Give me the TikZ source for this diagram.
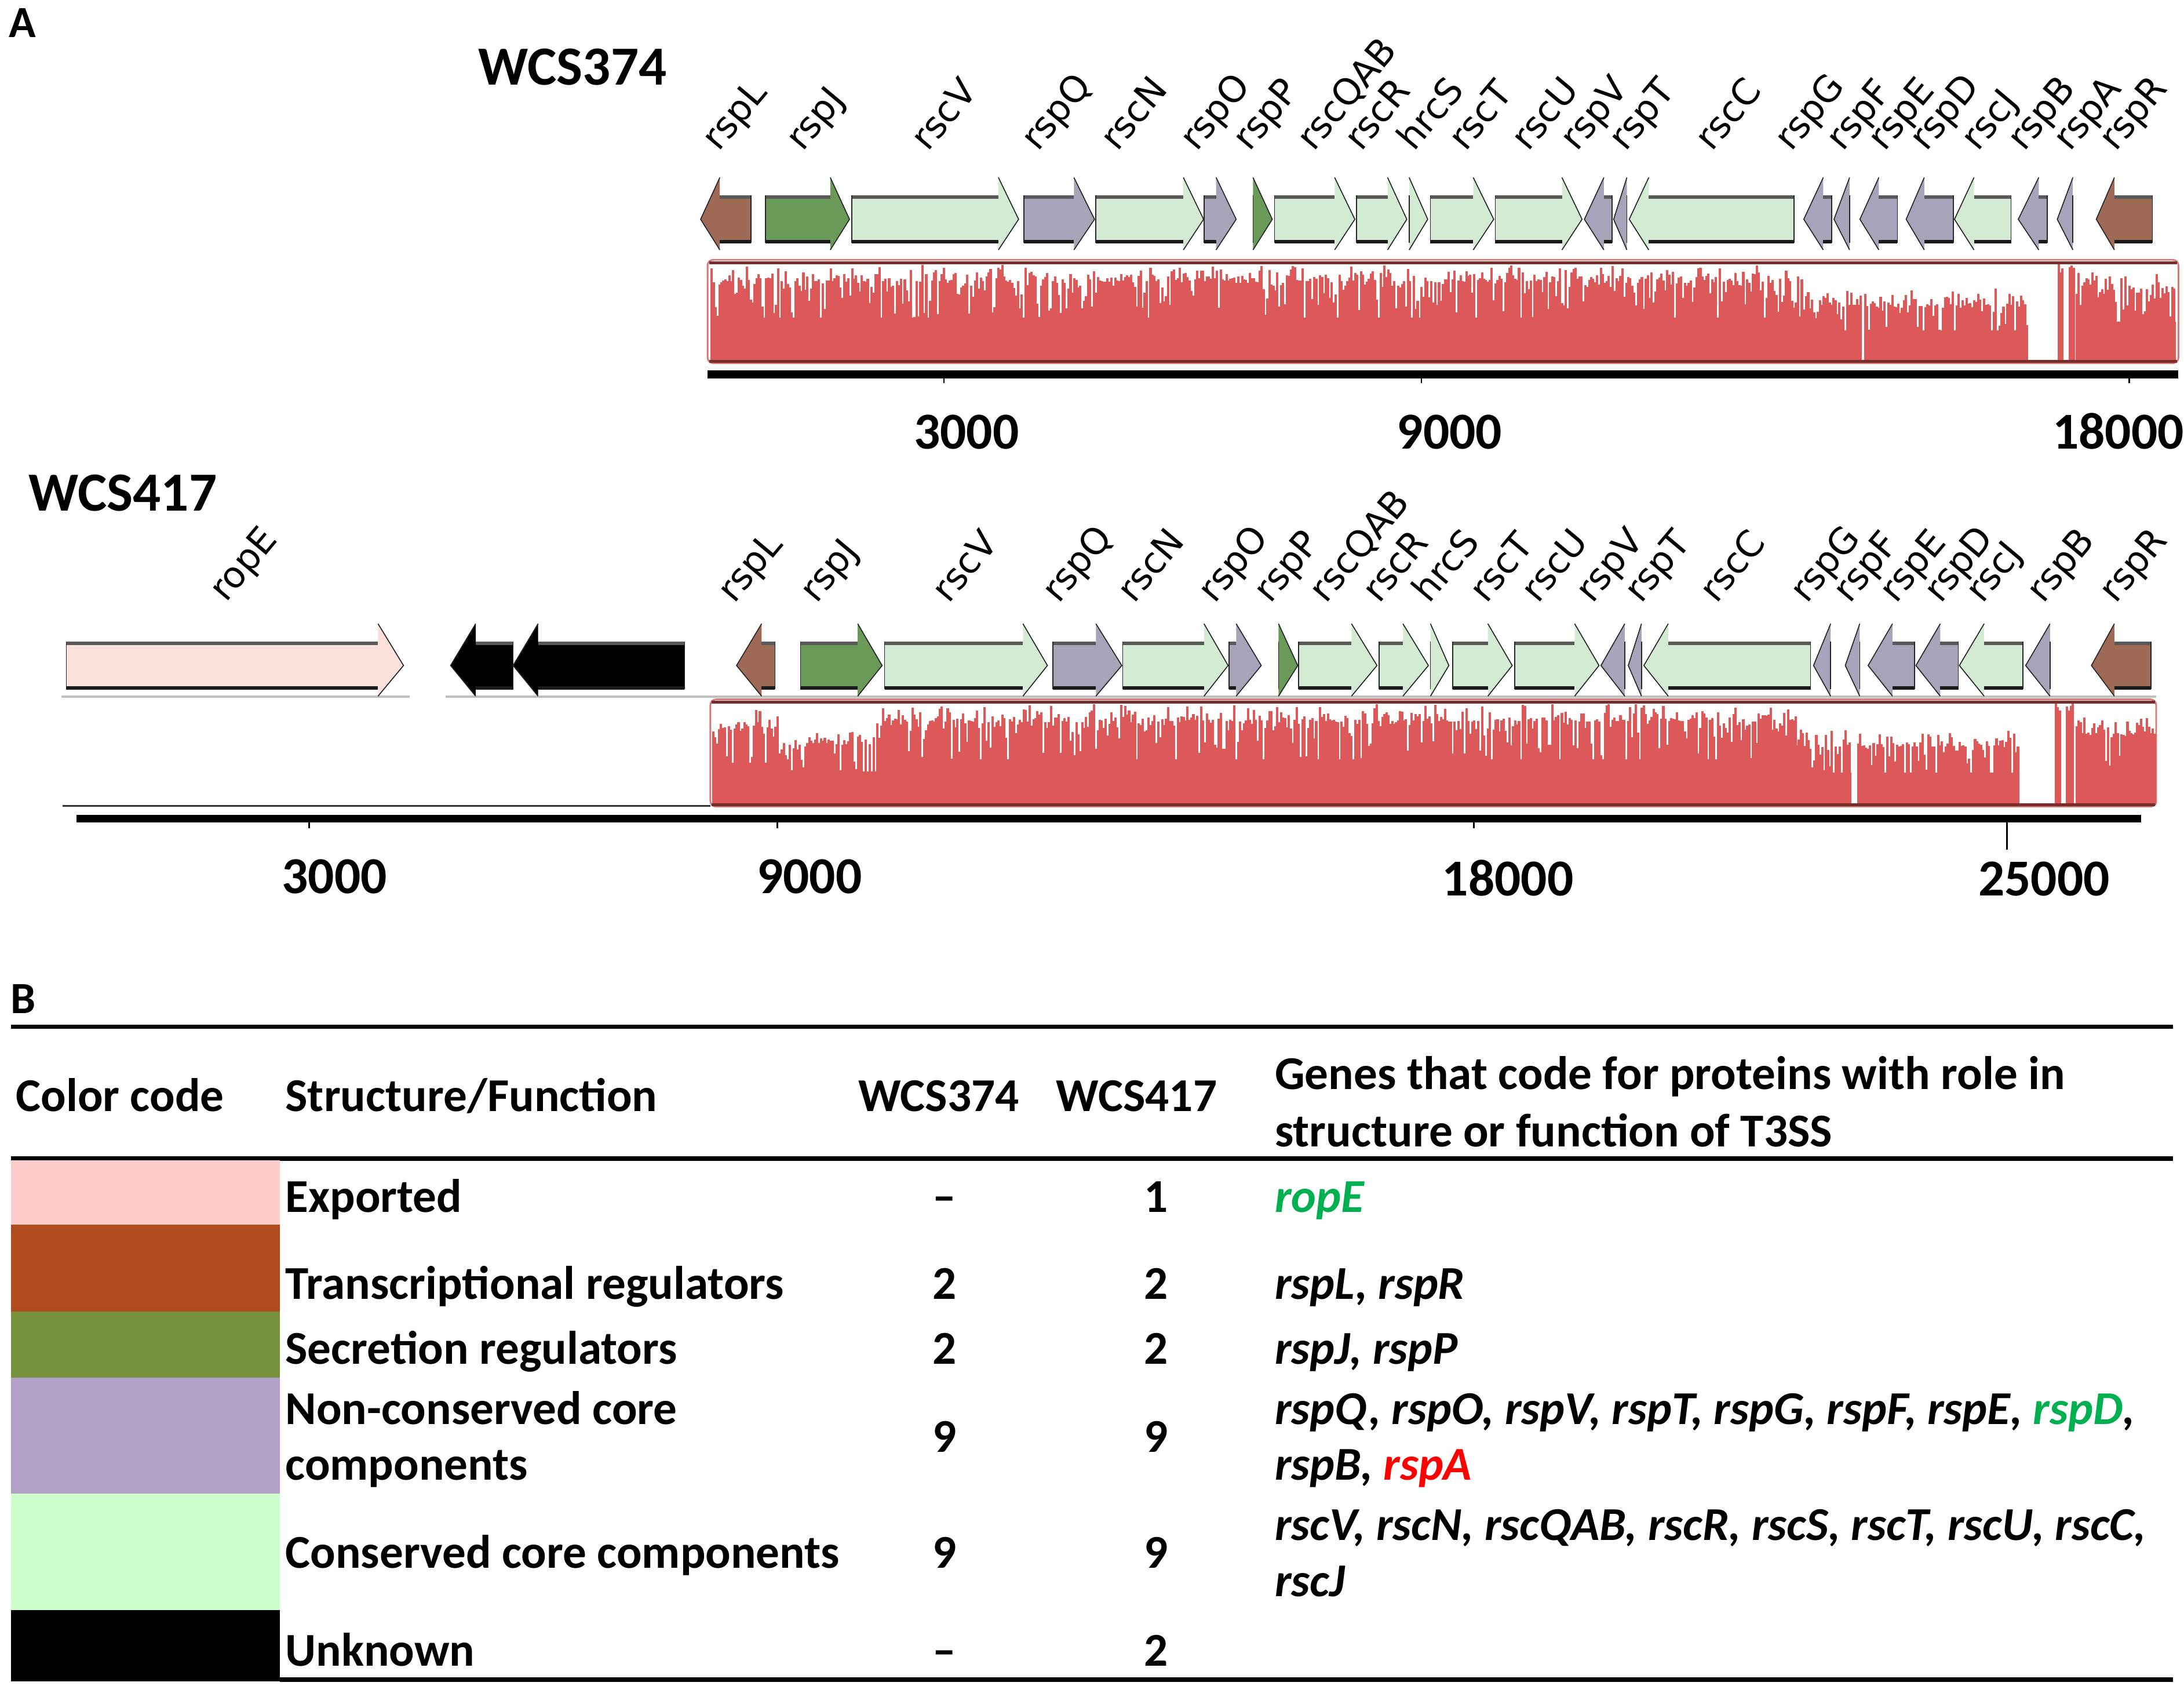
\documentclass[tikz,border=0pt]{standalone}
\usepackage{fontspec}
\setmainfont{Carlito}
\newfontfamily\genefont{DejaVu Sans}
\usepackage{tikz}
\usetikzlibrary{positioning}

\definecolor{expc}{HTML}{FFCCCC}
\definecolor{trcc}{HTML}{B04C1E}
\definecolor{secc}{HTML}{77923C}
\definecolor{nccc}{HTML}{B2A1C7}
\definecolor{conc}{HTML}{CCFFCC}
\definecolor{expg}{HTML}{FCE0DC}
\definecolor{trcg}{HTML}{9E6A55}
\definecolor{secg}{HTML}{6A9A58}
\definecolor{nccg}{HTML}{A7A3B9}
\definecolor{cong}{HTML}{D3EBD3}
\definecolor{histred}{RGB}{221,88,88}
\definecolor{histdark}{RGB}{120,45,45}
\definecolor{okgreen}{HTML}{00B050}

\newcommand{\tabfont}{\fontsize{16.9}{19}\selectfont\bfseries}
\newcommand{\rowy}{157.4}

% gene arrow: body end, head base, tip, colour
\newcommand{\gene}[4]{%
  \fill[#4] (#1,\rowy-17) -- (#2,\rowy-17) -- (#2,\rowy-30) -- (#3,\rowy)
    -- (#2,\rowy+22) -- (#2,\rowy+17) -- (#1,\rowy+17) -- cycle;
  \draw[bandtop] (#1,\rowy-16) -- (#2,\rowy-16);
  \draw[bandbot] (#1,\rowy+16) -- (#2,\rowy+16);
  \draw[geneline] (#1,\rowy-17) -- (#1,\rowy+17);
  \draw[geneline] (#2,\rowy-30) -- (#3,\rowy) -- (#2,\rowy+22);
}

% identity histogram: x0, x1, bottom, height, level, spread
\newcommand{\histo}[6]{%
  \pgfmathtruncatemacro{\hn}{(#2-#1)/1.4}%
  \fill[histred] (#1,#3) rectangle (#2,{#3-#4*#5*0.55});
  \foreach \i in {0,...,\hn}{%
    \pgfmathsetmacro{\hh}{min(0.97,#5+0.17*rnd^2-#6*rnd^5)}%
    \draw[histbar] ({#1+1.4*\i},#3) -- ++(0,{-#4*\hh});
  }%
}

\begin{document}
\begin{tikzpicture}[x=0.5pt,y=-0.5pt,
    glabel/.style={font=\genefont\fontsize{13}{15}\selectfont,rotate=50,anchor=base west,inner sep=0pt},
    bandtop/.style={line width=1.2pt,black!65},
    bandbot/.style={line width=1.2pt,black!90},
    geneline/.style={line width=0.35pt,black!85},
    histbar/.style={line width=0.85pt,histred},
    histbox/.style={draw={rgb,255:red,215;green,120;blue,120},fill=white,line width=0.6pt,rounded corners=2pt},
    ruler/.style={fill=black},
    tick/.style={line width=0.6pt},
    scalenum/.style={font=\fontsize{18.6}{20}\selectfont\bfseries,anchor=base west,inner sep=0pt},
    title/.style={font=\fontsize{19.8}{22}\selectfont\bfseries,anchor=base west,inner sep=0pt},
    panel/.style={font=\fontsize{16}{18}\selectfont\bfseries,anchor=base west,inner sep=0pt},
    tabtext/.style={font=\tabfont,anchor=base west,inner sep=0pt},
    tabnum/.style={font=\tabfont,anchor=base,inner sep=0pt},
    genetext/.style={font=\tabfont\itshape,anchor=base west,inner sep=0pt},
    rule/.style={line width=1.5pt}]
\useasboundingbox (0,0) rectangle (1568,1210);
\fill[white] (0,0) rectangle (1568,1210);
\pgfmathsetseed{7}

%% panel A
\node[panel] (pA) at (6,27) {A};
\node[title] (t374) at (343,61) {WCS374};
\node[title] (t417) at (20,366.8) {WCS417};

% WCS374 genes
\renewcommand{\rowy}{157.4}
\foreach \a/\b/\c/\col in {539.2/516.8/503.0/trcg, 549.5/596.1/609.9/secg,
    611.6/716.8/731.3/cong, 735.1/771.0/785.8/nccg, 786.8/849.6/864.1/cong,
    864.4/873.1/887.5/nccg, 899.6/899.6/913.4/secg, 915.1/958.2/972.7/cong,
    973.8/996.2/1010.0/cong, 1011.7/1011.7/1025.0/cong, 1026.9/1057.7/1072.4/cong,
    1073.5/1121.4/1135.8/cong, 1157.5/1151.5/1137.5/nccg, 1168/1168/1158.5/nccg,
    1288.0/1183.7/1169.7/cong, 1315.0/1309.0/1295.0/nccg, 1327.9/1327.9/1316.7/nccg,
    1362.2/1348.9/1335.3/nccg, 1402.5/1381.5/1368.5/nccg, 1443.8/1417.2/1403.2/cong,
    1469.7/1463.7/1449.0/nccg, 1488.2/1488.2/1477.0/nccg, 1545.3/1518.0/1505.0/trcg}
  {\gene{\a}{\b}{\c}{\col}}
\foreach \x/\name in {516/rspL, 576/rspJ, 666/rscV, 745/rspQ, 802/rscN,
    859/rspO, 897/rspP, 943/rscQAB, 977/rscR, 1015/hrcS, 1052/rscT,
    1097/rscU, 1132/rspV, 1167/rspT, 1229/rscC, 1286/rspG, 1323/rspF,
    1353/rspE, 1383/rspD, 1420/rscJ, 1453/rspB, 1486/rspA, 1519/rspR}
  \node[glabel] (a-\name) at (\x,109.6) {\name};

% WCS374 identity plot and scale
\draw[histbox] (508,186.5) rectangle (1564,260.7);
\histo{511}{1294}{259.5}{72}{0.8}{0.5}
\histo{1294}{1336}{259.5}{72}{0.56}{0.4}
\histo{1339}{1456}{259.5}{72}{0.56}{0.4}
\histo{1478}{1481}{259.5}{72}{0.9}{0.1}
\histo{1486}{1489}{259.5}{72}{0.9}{0.1}
\histo{1491}{1562}{259.5}{72}{0.72}{0.4}
\draw[histdark,line width=1pt] (509,188.5) -- (1563,188.5);
\draw[histdark,line width=1pt] (509,259.5) -- (1563,259.5);
\fill[ruler] (508,266) rectangle (1564,271.5);
\foreach \x in {677.7,1020.5,1528.8} \draw[tick] (\x,271.5) -- (\x,275);
\node[scalenum] (a3000) at (655.8,322.4) {3000};
\node[scalenum] (a9000) at (1002.6,322.4) {9000};
\node[scalenum] (a18000) at (1473.2,322.4) {18000};

% WCS417 genes
\draw[black!25,line width=0.8pt] (44,500) -- (294,500);
\draw[black!25,line width=0.8pt] (320,500) -- (1548,500);
\renewcommand{\rowy}{477.7}
\foreach \a/\b/\c/\col in {47.6/271.4/289.7/expg, 368.4/341.5/323.5/black,
    491.5/386.3/368.4/black, 556.4/546.8/528.8/trcg, 574.7/615.8/633.3/secg,
    635.1/734.4/752.0/cong, 755.8/786.8/805.4/nccg, 806.1/864.4/881.7/cong,
    882.4/887.5/905.5/nccg, 917.9/917.9/931.7/secg, 932.4/970.3/988.6/cong,
    990.0/1007.2/1025.5/cong, 1027/1027/1040.2/cong, 1043/1068.2/1085.7/cong,
    1087.5/1130.5/1148.0/cong, 1166.5/1166.5/1149.4/nccg, 1178.5/1178.5/1169/nccg,
    1299.9/1197.7/1180.2/cong, 1314.3/1314.3/1302/nccg, 1335.2/1335.2/1324.8/nccg,
    1374.5/1358.7/1341.2/nccg, 1406/1393/1375.5/nccg, 1452.2/1424.5/1406.7/cong,
    1471.8/1471.8/1454.3/nccg, 1544.2/1518/1501.5/trcg}
  {\gene{\a}{\b}{\c}{\col}}
\node[glabel] (b-ropE) at (162,433.3) {ropE};
\foreach \x/\name in {527/rspL, 586/rspJ, 681/rscV, 760/rspQ, 814/rscN,
    872/rspO, 912/rspP, 952/rscQAB, 990/rscR, 1026/hrcS, 1067/rscT,
    1104/rscU, 1143/rspV, 1178/rspT, 1232/rscC, 1297/rspG, 1328/rspF,
    1361/rspE, 1393/rspD, 1423/rscJ, 1467/rspB, 1519/rspR}
  \node[glabel] (b-\name) at (\x,434) {\name};

% WCS417 identity plot and scale
\draw[black!80,line width=0.6pt] (45,578.5) -- (510,578.5);
\draw[histbox] (510,502) rectangle (1548,579);
\histo{512}{560}{577.8}{75}{0.74}{0.5}
\histo{560}{630}{577.8}{75}{0.58}{0.45}
\histo{630}{1290}{577.8}{75}{0.8}{0.5}
\histo{1290}{1329}{577.8}{75}{0.56}{0.4}
\histo{1334}{1450}{577.8}{75}{0.56}{0.4}
\histo{1476}{1479}{577.8}{75}{0.9}{0.1}
\histo{1484}{1489}{577.8}{75}{0.9}{0.1}
\histo{1491}{1547}{577.8}{75}{0.68}{0.4}
\draw[histdark,line width=1pt] (511,504) -- (1547,504);
\draw[histdark,line width=1pt] (511,577.8) -- (1547,577.8);
\fill[ruler] (55,585) rectangle (1537,590.5);
\foreach \x in {222,558,1058} \draw[tick] (\x,590.5) -- (\x,594.5);
\draw[tick] (1441,590.5) -- (1441,610);
\node[scalenum] (b3000) at (202,641.4) {3000};
\node[scalenum] (b9000) at (543,641.4) {9000};
\node[scalenum] (b18000) at (1035,642.8) {18000};
\node[scalenum] (b25000) at (1420,642.8) {25000};

%% panel B
\node[panel] (pB) at (7.5,727.3) {B};
\draw[rule] (8,737) -- (1560,737);
\draw[rule] (8,831.6) -- (1560,831.6);
\draw[rule] (201,1205.6) -- (1560,1205.6);

\fill[expc] (8,833) rectangle (201,879);
\fill[trcc] (8,879) rectangle (201,941.4);
\fill[secc] (8,941.4) rectangle (201,989);
\fill[nccc] (8,989) rectangle (201,1072.2);
\fill[conc] (8,1072.2) rectangle (201,1155.8);
\fill[black] (8,1155.8) rectangle (201,1207);

\node[tabtext] (hcol) at (11,797.6) {Color code};
\node[tabtext] (hfun) at (204.5,797.6) {Structure/Function};
\node[tabnum] (h374) at (674,797.8) {WCS374};
\node[tabnum] (h417) at (816,797.8) {WCS417};
\node[tabtext] (hgen) at (914.9,782) {Genes that code for proteins with role in};
\node[tabtext] (hgen2) at (914.9,822.9) {structure or function of T3SS};

\node[tabtext] (f1) at (204.5,870.2) {Exported};
\node[tabtext] (f2) at (204.5,932.4) {Transcriptional regulators};
\node[tabtext] (f3) at (204.5,979.3) {Secretion regulators};
\node[tabtext] (f4) at (204.5,1022.2) {Non-conserved core};
\node[tabtext] (f4b) at (204.5,1062.5) {components};
\node[tabtext] (f5) at (204.5,1125.6) {Conserved core components};
\node[tabtext] (f6) at (204.5,1195.9) {Unknown};

\foreach \y/\m/\n [count=\r] in {870.2/–/1, 932.4/2/2, 979.3/2/2, 1042.3/9/9, 1125.6/9/9, 1195.9/–/2}{
  \node[tabnum] (c374-\r) at (678,\y) {\m};
  \node[tabnum] (c417-\r) at (829.8,\y) {\n};
}

\node[genetext,text=okgreen] (g1) at (914.9,870.2) {ropE};
\node[genetext] (g2) at (914.9,932.4) {rspL, rspR};
\node[genetext] (g3) at (914.9,979.3) {rspJ, rspP};
\node[genetext] (g4) at (914.9,1022.2) {rspQ, rspO, rspV, rspT, rspG, rspF, rspE, \textcolor{okgreen}{rspD},};
\node[genetext] (g4b) at (914.9,1062.5) {rspB, \textcolor{red}{rspA}};
\node[genetext] (g5) at (914.9,1105.4) {rscV, rscN, rscQAB, rscR, rscS, rscT, rscU, rscC,};
\node[genetext] (g5b) at (914.9,1145.8) {rscJ};
\end{tikzpicture}
\end{document}
